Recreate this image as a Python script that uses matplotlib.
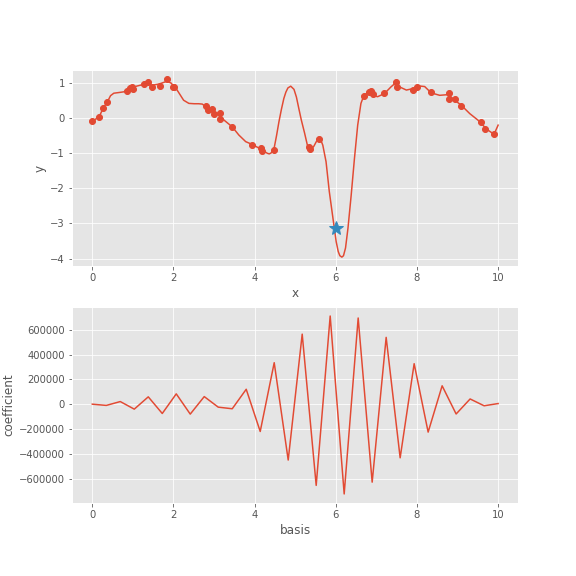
import matplotlib

matplotlib.use("Agg")
import matplotlib.pyplot as plt
import numpy as np

plt.style.use("ggplot")

# noisy samples
x_obs = [0.0, 0.17, 0.27, 0.37, 0.85, 0.93, 0.97, 1.01, 1.28, 1.37, 1.46, 1.68,
         1.85, 1.99, 2.02, 2.79, 2.86, 2.94, 3.01, 3.14, 3.14, 3.45, 3.94, 4.16,
         4.18, 4.47, 5.33, 5.37, 5.58, 6.69, 6.83, 6.87, 6.91, 7.20, 7.48, 7.51,
         7.90, 7.99, 8.35, 8.78, 8.79, 8.94, 9.09, 9.57, 9.68, 9.89]
y_obs = [-0.08, 0.03, 0.28, 0.45, 0.78, 0.85, 0.90, 0.83, 0.96, 1.02, 0.89, 0.92,
         1.11, 0.90, 0.88, 0.35, 0.23, 0.27, 0.13, 0.15, -0.03, -0.25, -0.77, -0.84,
         -0.93, -0.91, -0.82, -0.88, -0.59, 0.63, 0.74, 0.76, 0.68, 0.71, 1.02, 0.88,
         0.79, 0.89, 0.74, 0.71, 0.55, 0.54, 0.35, -0.11, -0.30, -0.45]

# fitted curve
x_fit = [0.0, 0.17, 0.27, 0.37, 0.45, 0.53, 0.66, 0.78, 0.90, 1.02, 1.19, 1.35,
         1.48, 1.64, 1.84, 1.94, 2.09, 2.25, 2.38, 2.51, 2.62, 2.71, 2.87, 3.08,
         3.25, 3.45, 3.61, 3.78, 3.94, 4.15, 4.31, 4.36, 4.41, 4.48, 4.54, 4.60, 4.66,
         4.72, 4.77, 4.82, 4.89, 4.97, 5.03, 5.09, 5.15, 5.23, 5.31, 5.39, 5.46, 5.52,
         5.58, 5.63, 5.68, 5.76, 5.84, 5.93, 6.01, 6.06, 6.10, 6.15, 6.19, 6.24, 6.30, 6.38,
         6.46, 6.54, 6.62, 6.69, 6.79, 6.91, 7.03, 7.20, 7.36, 7.48, 7.57, 7.74,
         7.90, 8.02, 8.19, 8.35, 8.56, 8.77, 8.93, 9.09, 9.30, 9.55, 9.71, 9.90,
         10.0]
y_fit = [-0.09, 0.04, 0.29, 0.46, 0.64, 0.71, 0.73, 0.75, 0.82, 0.89, 0.94, 0.98,
         0.94, 0.97, 1.05, 1.00, 0.80, 0.51, 0.42, 0.41, 0.41, 0.40, 0.27, 0.13,
         -0.06, -0.25, -0.48, -0.67, -0.75, -0.88, -1.00, -1.02, -0.99, -0.86, -0.50, -0.10, 0.25,
         0.56, 0.74, 0.86, 0.91, 0.82, 0.60, 0.27, -0.05, -0.42, -0.82, -0.91, -0.80, -0.67,
         -0.58, -0.62, -0.77, -1.24, -2.09, -2.85, -3.52, -3.80, -3.92, -3.96, -3.92, -3.70, -3.14, -2.19,
         -1.15, -0.20, 0.42, 0.64, 0.73, 0.65, 0.61, 0.70, 0.89, 1.01, 0.89, 0.80,
         0.84, 0.92, 0.90, 0.72, 0.65, 0.67, 0.51, 0.37, 0.13, -0.10, -0.31, -0.46,
         -0.20]

x_star = [6.0]
y_star = [-3.13]

# basis coefficients (30 basis functions evenly spaced on [0, 10])
basis = np.linspace(0, 10, 30)
coef = [0, -10000, 21000, -40000, 59000, -75000, 83000, -80000, 61000, -24000,
        -37000, 120000, -220000, 334000, -450000, 564000, -654000, 710000, -723000, 694000,
        -628000, 538000, -432000, 326000, -225000, 148000, -79000, 42000, -13000, 5000]

fig, (ax1, ax2) = plt.subplots(2, 1, figsize=(8, 8), dpi=72)
fig.subplots_adjust(top=0.878, bottom=0.127, hspace=0.21)

ax1.plot(x_obs, y_obs, "o", color="#E24A33")
ax1.plot(x_fit, y_fit, color="#E24A33")
ax1.plot(x_star, y_star, "*", color="#348ABD", markersize=15)
ax1.set_xlabel("x")
ax1.set_ylabel("y")

ax2.plot(basis, coef, color="#E24A33")
ax2.set_xlabel("basis")
ax2.set_ylabel("coefficient")

fig.savefig("out.png", dpi=72)
